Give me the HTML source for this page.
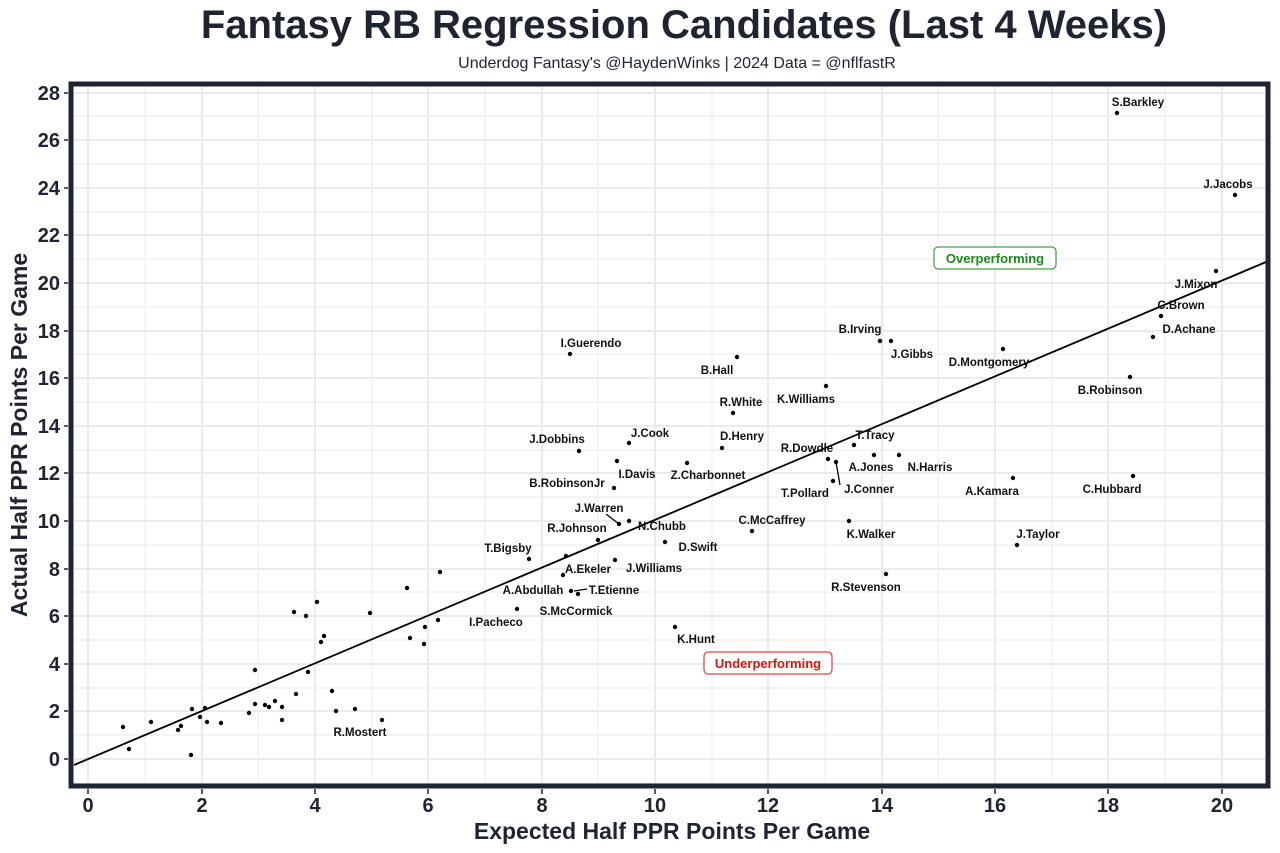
<!DOCTYPE html>
<html><head><meta charset="utf-8"><style>
html,body{margin:0;padding:0;background:#fff;}
svg{display:block;font-family:"Liberation Sans",Arial,sans-serif;}
</style></head><body>
<svg width="1280" height="853" viewBox="0 0 1280 853" xmlns="http://www.w3.org/2000/svg">
<rect width="1280" height="853" fill="#fff"/>
<text x="684" y="38" text-anchor="middle" font-size="40" font-weight="bold" fill="#1f2430">Fantasy RB Regression Candidates (Last 4 Weeks)</text>
<text x="677" y="68" text-anchor="middle" font-size="16" fill="#1f2430">Underdog Fantasy's @HaydenWinks | 2024 Data = @nflfastR</text>
<g stroke="#ebebeb" stroke-width="1">
<line x1="74" x2="1266" y1="735" y2="735"/><line x1="74" x2="1266" y1="688" y2="688"/><line x1="74" x2="1266" y1="640" y2="640"/><line x1="74" x2="1266" y1="592" y2="592"/><line x1="74" x2="1266" y1="545" y2="545"/><line x1="74" x2="1266" y1="497" y2="497"/><line x1="74" x2="1266" y1="450" y2="450"/><line x1="74" x2="1266" y1="402" y2="402"/><line x1="74" x2="1266" y1="354" y2="354"/><line x1="74" x2="1266" y1="307" y2="307"/><line x1="74" x2="1266" y1="259" y2="259"/><line x1="74" x2="1266" y1="212" y2="212"/><line x1="74" x2="1266" y1="164" y2="164"/><line x1="74" x2="1266" y1="116" y2="116"/><line x1="74" x2="1266" y1="783" y2="783"/>
<line y1="87" y2="783" x1="145" x2="145"/><line y1="87" y2="783" x1="258" x2="258"/><line y1="87" y2="783" x1="372" x2="372"/><line y1="87" y2="783" x1="485" x2="485"/><line y1="87" y2="783" x1="598" x2="598"/><line y1="87" y2="783" x1="712" x2="712"/><line y1="87" y2="783" x1="825" x2="825"/><line y1="87" y2="783" x1="938" x2="938"/><line y1="87" y2="783" x1="1052" x2="1052"/><line y1="87" y2="783" x1="1165" x2="1165"/>
</g>
<g stroke="#ebebeb" stroke-width="2">
<line x1="74" x2="1266" y1="759" y2="759"/><line x1="74" x2="1266" y1="711" y2="711"/><line x1="74" x2="1266" y1="664" y2="664"/><line x1="74" x2="1266" y1="616" y2="616"/><line x1="74" x2="1266" y1="569" y2="569"/><line x1="74" x2="1266" y1="521" y2="521"/><line x1="74" x2="1266" y1="473" y2="473"/><line x1="74" x2="1266" y1="426" y2="426"/><line x1="74" x2="1266" y1="378" y2="378"/><line x1="74" x2="1266" y1="331" y2="331"/><line x1="74" x2="1266" y1="283" y2="283"/><line x1="74" x2="1266" y1="235" y2="235"/><line x1="74" x2="1266" y1="188" y2="188"/><line x1="74" x2="1266" y1="140" y2="140"/><line x1="74" x2="1266" y1="93" y2="93"/>
<line y1="87" y2="783" x1="88" x2="88"/><line y1="87" y2="783" x1="202" x2="202"/><line y1="87" y2="783" x1="315" x2="315"/><line y1="87" y2="783" x1="428" x2="428"/><line y1="87" y2="783" x1="542" x2="542"/><line y1="87" y2="783" x1="655" x2="655"/><line y1="87" y2="783" x1="768" x2="768"/><line y1="87" y2="783" x1="882" x2="882"/><line y1="87" y2="783" x1="995" x2="995"/><line y1="87" y2="783" x1="1108" x2="1108"/><line y1="87" y2="783" x1="1222" x2="1222"/>
</g>
<line x1="74" y1="765" x2="1266" y2="262" stroke="#000" stroke-width="1.8"/>
<g stroke="#000" stroke-width="1.3">
<line x1="606" y1="514" x2="619" y2="524"/><line x1="574" y1="591" x2="587" y2="589"/><line x1="836" y1="462" x2="840" y2="485"/>
</g>
<g fill="#000">
<circle cx="1117" cy="113" r="2.2"/><circle cx="1235" cy="195" r="2.2"/><circle cx="1216" cy="271" r="2.2"/><circle cx="1161" cy="316" r="2.2"/><circle cx="1153" cy="337" r="2.2"/><circle cx="1130" cy="377" r="2.2"/><circle cx="1133" cy="476" r="2.2"/><circle cx="1017" cy="545" r="2.2"/><circle cx="1013" cy="478" r="2.2"/><circle cx="1003" cy="349" r="2.2"/><circle cx="880" cy="341" r="2.2"/><circle cx="891" cy="341" r="2.2"/><circle cx="826" cy="386" r="2.2"/><circle cx="854" cy="445" r="2.2"/><circle cx="828" cy="459" r="2.2"/><circle cx="874" cy="455" r="2.2"/><circle cx="899" cy="455" r="2.2"/><circle cx="836" cy="462" r="2.2"/><circle cx="833" cy="481" r="2.2"/><circle cx="849" cy="521" r="2.2"/><circle cx="886" cy="574" r="2.2"/><circle cx="752" cy="531" r="2.2"/><circle cx="722" cy="448" r="2.2"/><circle cx="733" cy="413" r="2.2"/><circle cx="737" cy="357" r="2.2"/><circle cx="570" cy="354" r="2.2"/>
<circle cx="579" cy="451" r="2.2"/><circle cx="629" cy="443" r="2.2"/><circle cx="617" cy="461" r="2.2"/><circle cx="687" cy="463" r="2.2"/><circle cx="614" cy="488" r="2.2"/><circle cx="619" cy="524" r="2.2"/><circle cx="629" cy="521" r="2.2"/><circle cx="598" cy="540" r="2.2"/><circle cx="665" cy="542" r="2.2"/><circle cx="529" cy="559" r="2.2"/><circle cx="566" cy="556" r="2.2"/><circle cx="615" cy="560" r="2.2"/><circle cx="563" cy="575" r="2.2"/><circle cx="571" cy="591" r="2.2"/><circle cx="578" cy="594" r="2.2"/><circle cx="517" cy="609" r="2.2"/><circle cx="675" cy="627" r="2.2"/>
<circle cx="440" cy="572" r="2.2"/><circle cx="407" cy="588" r="2.2"/><circle cx="370" cy="613" r="2.2"/><circle cx="317" cy="602" r="2.2"/><circle cx="294" cy="612" r="2.2"/><circle cx="306" cy="616" r="2.2"/><circle cx="324" cy="636" r="2.2"/><circle cx="321" cy="642" r="2.2"/><circle cx="410" cy="638" r="2.2"/><circle cx="425" cy="627" r="2.2"/><circle cx="424" cy="644" r="2.2"/><circle cx="438" cy="620" r="2.2"/><circle cx="255" cy="670" r="2.2"/><circle cx="308" cy="672" r="2.2"/><circle cx="332" cy="691" r="2.2"/><circle cx="296" cy="694" r="2.2"/><circle cx="249" cy="713" r="2.2"/><circle cx="255" cy="704" r="2.2"/><circle cx="265" cy="705" r="2.2"/><circle cx="269" cy="707" r="2.2"/><circle cx="275" cy="701" r="2.2"/><circle cx="282" cy="707" r="2.2"/><circle cx="282" cy="720" r="2.2"/><circle cx="336" cy="711" r="2.2"/><circle cx="355" cy="709" r="2.2"/><circle cx="382" cy="720" r="2.2"/>
<circle cx="123" cy="727" r="2.2"/><circle cx="129" cy="749" r="2.2"/><circle cx="151" cy="722" r="2.2"/><circle cx="178" cy="730" r="2.2"/><circle cx="181" cy="726" r="2.2"/><circle cx="192" cy="709" r="2.2"/><circle cx="191" cy="755" r="2.2"/><circle cx="200" cy="717" r="2.2"/><circle cx="205" cy="708" r="2.2"/><circle cx="207" cy="722" r="2.2"/><circle cx="221" cy="723" r="2.2"/>
</g>
<g font-size="11.5" font-weight="bold" fill="#111" text-anchor="middle">
<text x="1138" y="106">S.Barkley</text><text x="1228" y="188">J.Jacobs</text><text x="1196" y="288">J.Mixon</text><text x="1181" y="309">C.Brown</text><text x="1189" y="333">D.Achane</text><text x="1110" y="394">B.Robinson</text><text x="1112" y="493">C.Hubbard</text><text x="1038" y="538">J.Taylor</text><text x="992" y="495">A.Kamara</text><text x="989" y="366">D.Montgomery</text><text x="860" y="333">B.Irving</text><text x="912" y="358">J.Gibbs</text><text x="806" y="403">K.Williams</text><text x="875" y="439">T.Tracy</text><text x="807" y="452">R.Dowdle</text><text x="871" y="471">A.Jones</text><text x="930" y="471">N.Harris</text><text x="869" y="493">J.Conner</text><text x="805" y="497">T.Pollard</text><text x="871" y="538">K.Walker</text><text x="866" y="591">R.Stevenson</text><text x="772" y="524">C.McCaffrey</text><text x="742" y="440">D.Henry</text><text x="741" y="406">R.White</text><text x="717" y="374">B.Hall</text><text x="591" y="347">I.Guerendo</text><text x="557" y="443">J.Dobbins</text><text x="650" y="437">J.Cook</text><text x="637" y="478">I.Davis</text><text x="708" y="479">Z.Charbonnet</text><text x="567" y="487">B.RobinsonJr</text><text x="599" y="512">J.Warren</text><text x="662" y="530">N.Chubb</text><text x="577" y="532">R.Johnson</text><text x="698" y="551">D.Swift</text><text x="654" y="572">J.Williams</text><text x="508" y="552">T.Bigsby</text><text x="588" y="573">A.Ekeler</text><text x="533" y="594">A.Abdullah</text><text x="614" y="594">T.Etienne</text><text x="576" y="615">S.McCormick</text><text x="496" y="626">I.Pacheco</text><text x="696" y="643">K.Hunt</text><text x="360" y="736">R.Mostert</text>
</g>
<rect x="934" y="247" width="122" height="22" rx="4" fill="#fff" stroke="#1a8a1a" stroke-width="1"/>
<text x="995" y="263" text-anchor="middle" font-size="13" font-weight="bold" fill="#1a8a1a">Overperforming</text>
<rect x="704" y="652" width="128" height="22" rx="4" fill="#fff" stroke="#e01010" stroke-width="1"/>
<text x="768" y="668" text-anchor="middle" font-size="13" font-weight="bold" fill="#e01010">Underperforming</text>
<rect x="71" y="84" width="1197" height="702" fill="none" stroke="#1f2430" stroke-width="5"/>
<g stroke="#1f2430" stroke-width="1.5">
<line x1="64" x2="68" y1="759" y2="759"/><line x1="64" x2="68" y1="711" y2="711"/><line x1="64" x2="68" y1="664" y2="664"/><line x1="64" x2="68" y1="616" y2="616"/><line x1="64" x2="68" y1="569" y2="569"/><line x1="64" x2="68" y1="521" y2="521"/><line x1="64" x2="68" y1="473" y2="473"/><line x1="64" x2="68" y1="426" y2="426"/><line x1="64" x2="68" y1="378" y2="378"/><line x1="64" x2="68" y1="331" y2="331"/><line x1="64" x2="68" y1="283" y2="283"/><line x1="64" x2="68" y1="235" y2="235"/><line x1="64" x2="68" y1="188" y2="188"/><line x1="64" x2="68" y1="140" y2="140"/><line x1="64" x2="68" y1="93" y2="93"/>
<line y1="789" y2="794" x1="88" x2="88"/><line y1="789" y2="794" x1="202" x2="202"/><line y1="789" y2="794" x1="315" x2="315"/><line y1="789" y2="794" x1="428" x2="428"/><line y1="789" y2="794" x1="542" x2="542"/><line y1="789" y2="794" x1="655" x2="655"/><line y1="789" y2="794" x1="768" x2="768"/><line y1="789" y2="794" x1="882" x2="882"/><line y1="789" y2="794" x1="995" x2="995"/><line y1="789" y2="794" x1="1108" x2="1108"/><line y1="789" y2="794" x1="1222" x2="1222"/>
</g>
<g font-size="20" font-weight="bold" fill="#1f2430" text-anchor="end">
<text x="60" y="766">0</text><text x="60" y="718">2</text><text x="60" y="671">4</text><text x="60" y="623">6</text><text x="60" y="576">8</text><text x="60" y="528">10</text><text x="60" y="480">12</text><text x="60" y="433">14</text><text x="60" y="385">16</text><text x="60" y="338">18</text><text x="60" y="290">20</text><text x="60" y="242">22</text><text x="60" y="195">24</text><text x="60" y="147">26</text><text x="60" y="100">28</text>
</g>
<g font-size="20" font-weight="bold" fill="#1f2430" text-anchor="middle">
<text x="88" y="812">0</text><text x="202" y="812">2</text><text x="315" y="812">4</text><text x="428" y="812">6</text><text x="542" y="812">8</text><text x="655" y="812">10</text><text x="768" y="812">12</text><text x="882" y="812">14</text><text x="995" y="812">16</text><text x="1108" y="812">18</text><text x="1222" y="812">20</text>
</g>
<text x="672" y="839" text-anchor="middle" font-size="23" font-weight="bold" fill="#1f2430">Expected Half PPR Points Per Game</text>
<text transform="translate(27,435) rotate(-90)" text-anchor="middle" font-size="23" font-weight="bold" fill="#1f2430">Actual Half PPR Points Per Game</text>
</svg>
</body></html>
